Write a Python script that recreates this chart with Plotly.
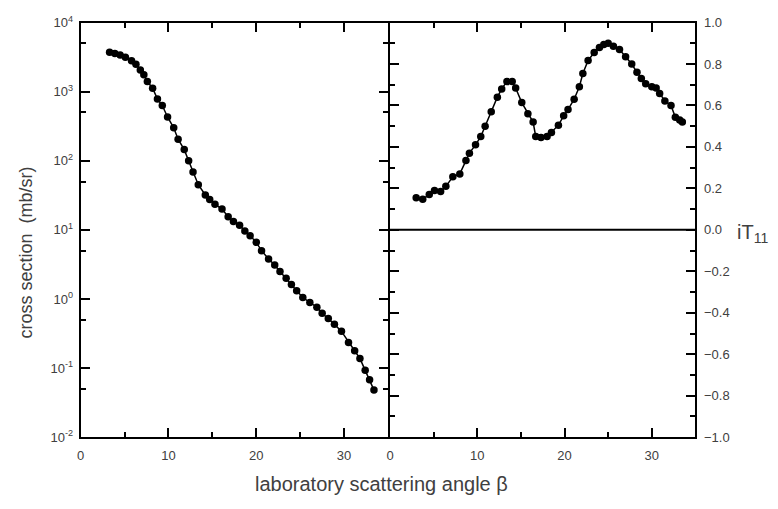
import plotly.graph_objects as go

# Differential cross section vs laboratory scattering angle
angle_xs = [3.3, 3.9, 4.5, 5.1, 5.8, 6.3, 6.8, 7.2, 7.6, 8.2, 8.75, 9.3, 9.9, 10.6,
            11.1, 11.8, 12.3, 12.8, 13.4, 14.2, 14.7, 15.3, 16.1, 16.8, 17.4, 18.1,
            18.7, 19.3, 20.0, 20.6, 21.4, 22.1, 22.7, 23.4, 24.0, 24.6, 25.3, 26.1,
            26.9, 27.5, 28.2, 28.9, 29.7, 30.5, 31.2, 31.8, 32.4, 32.9, 33.4]
cross_section = [3700, 3550, 3400, 3150, 2800, 2500, 2050, 1750, 1400, 1120, 780, 630,
                 430, 300, 205, 145, 100, 69, 45, 32, 27.5, 23.5, 20, 15.5, 13.2, 11.7,
                 9.6, 8.2, 6.6, 5.0, 3.8, 3.1, 2.5, 2.0, 1.62, 1.32, 1.05, 0.89, 0.76,
                 0.62, 0.52, 0.43, 0.34, 0.235, 0.178, 0.138, 0.093, 0.068, 0.048]

# Vector analysing power iT11
angle_it = [3.0, 3.75, 4.5, 5.1, 5.8, 6.4, 7.2, 8.0, 8.7, 9.1, 9.8, 10.4, 10.9, 11.6,
            12.3, 12.8, 13.4, 14.0, 14.4, 15.1, 15.8, 16.4, 16.7, 17.3, 18.0, 18.5,
            19.3, 19.9, 20.4, 21.1, 21.7, 22.1, 22.7, 23.4, 24.0, 24.5, 25.0, 25.6,
            26.3, 27.0, 27.7, 28.3, 28.8, 29.3, 30.0, 30.5, 30.9, 31.5, 32.2, 32.7,
            33.2, 33.5]
it11 = [0.155, 0.148, 0.17, 0.19, 0.185, 0.21, 0.256, 0.27, 0.334, 0.37, 0.41, 0.45,
        0.50, 0.57, 0.64, 0.68, 0.715, 0.715, 0.684, 0.614, 0.56, 0.52, 0.45, 0.446,
        0.45, 0.47, 0.505, 0.55, 0.58, 0.63, 0.69, 0.754, 0.817, 0.855, 0.88, 0.894,
        0.90, 0.886, 0.87, 0.835, 0.80, 0.76, 0.73, 0.705, 0.69, 0.684, 0.658, 0.622,
        0.60, 0.543, 0.53, 0.52]

x_ticks = [0, 10, 20, 30]
log_ticks = [1e-2, 1e-1, 1e0, 1e1, 1e2, 1e3, 1e4]
log_tick_text = ["10<sup>-2</sup>", "10<sup>-1</sup>", "10<sup>0</sup>", "10<sup>1</sup>",
                 "10<sup>2</sup>", "10<sup>3</sup>", "10<sup>4</sup>"]
log_minor = [5e-2, 5e-1, 5e0, 5e1, 5e2, 5e3]
it_ticks = [-1.0, -0.8, -0.6, -0.4, -0.2, 0.0, 0.2, 0.4, 0.6, 0.8, 1.0]

TXT = "#404040"
FONT = "Liberation Sans, Arial, sans-serif"
LW = 2

fig = go.Figure()

marker = dict(symbol="circle", size=7.5, color="black")
line = dict(color="black", width=1.5)

fig.add_trace(go.Scatter(x=angle_xs, y=cross_section, mode="lines+markers",
                         marker=marker, line=line, xaxis="x", yaxis="y",
                         showlegend=False))
fig.add_trace(go.Scatter(x=angle_it, y=it11, mode="lines+markers",
                         marker=marker, line=line, xaxis="x2", yaxis="y2",
                         showlegend=False))

axis_common = dict(showline=True, linecolor="black", linewidth=LW, mirror="ticks",
                   ticks="inside", tickcolor="black", tickwidth=1.5, ticklen=9,
                   showgrid=False, zeroline=False,
                   tickfont=dict(family=FONT, size=13, color=TXT))

minor_common = dict(ticks="inside", ticklen=5, tickcolor="black", tickwidth=1.5)

y_lo, y_hi = 1 - 443 / 509, 1 - 14 / 509
# the two panels share their inner edge line
left_end = 386 / 778
right_start = (386 + LW) / 778

fig.update_layout(
    width=778, height=509,
    margin=dict(l=0, r=0, t=0, b=0),
    paper_bgcolor="white", plot_bgcolor="white",
    xaxis=dict(domain=[77 / 778, left_end], range=[0, 35], tickvals=x_ticks,
               minor=dict(dtick=5, tick0=0, **minor_common),
               ticklabelstandoff=5, anchor="y", **axis_common),
    yaxis=dict(domain=[y_lo, y_hi], type="log", range=[-2, 4],
               tickvals=log_ticks, ticktext=log_tick_text,
               minor=dict(tickvals=log_minor, **minor_common),
               ticklabelstandoff=3, anchor="x", **axis_common),
    xaxis2=dict(domain=[right_start, 695 / 778], range=[0, 35], tickvals=x_ticks,
                minor=dict(dtick=5, tick0=0, **minor_common),
                ticklabelstandoff=5, anchor="y2", **axis_common),
    yaxis2=dict(domain=[y_lo, y_hi], range=[-1, 1], tickvals=it_ticks,
                tickformat=".1f", side="right",
                minor=dict(dtick=0.1, tick0=0, **minor_common),
                ticklabelstandoff=4, anchor="x2", **axis_common),
    shapes=[dict(type="line", xref="x2", yref="y2", x0=0, x1=35, y0=0, y1=0,
                 line=dict(color="black", width=2))],
    annotations=[
        dict(text="cross section  (mb/sr)", textangle=-90, xref="paper", yref="paper",
             x=22 / 778, y=1 - 252 / 509, xanchor="center", yanchor="middle",
             showarrow=False, font=dict(family=FONT, size=18, color=TXT)),
        dict(text="laboratory scattering angle β", xref="paper", yref="paper",
             x=379 / 778, y=1 - 491 / 509, xanchor="center", yanchor="middle",
             showarrow=False, font=dict(family=FONT, size=20, color=TXT)),
        dict(text="iT<sub>11</sub>", xref="paper", yref="paper",
             x=752 / 778, y=1 - 232 / 509, xanchor="center", yanchor="middle",
             showarrow=False, font=dict(family=FONT, size=20, color=TXT)),
    ],
)

fig.write_html("out.html")
